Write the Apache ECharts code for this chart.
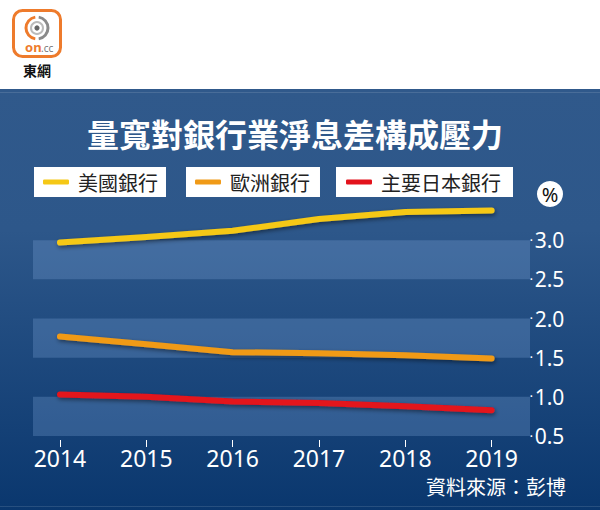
<!DOCTYPE html>
<html><head><meta charset="utf-8">
<script src="https://cdn.jsdelivr.net/npm/echarts@6/dist/echarts.min.js"></script>
<style>
html,body{margin:0;padding:0;}
#c{width:600px;height:510px;background:linear-gradient(to bottom,#ffffff 0px,#ffffff 89px,#30598b 89px,#2d578a 230px,#0a376e 510px);}
</style></head>
<body><div id="c"></div>
<script>
const years = ['2014','2015','2016','2017','2018','2019'];
const usBanks = [2.97, 3.04, 3.12, 3.27, 3.36, 3.38];
const euBanks = [1.77, 1.67, 1.57, 1.555, 1.53, 1.49];
const jpBanks = [1.03, 1.00, 0.94, 0.92, 0.88, 0.83];
const yTicks = [0.5, 1.0, 1.5, 2.0, 2.5, 3.0];
const seriesNames = ['美國銀行', '歐洲銀行', '主要日本銀行'];
const seriesColors = ['#f5c816', '#f09a17', '#e3121c'];

const cjk = '"Noto Sans CJK TC", "Noto Sans", sans-serif';
const num = '"Noto Sans", "Noto Sans CJK TC", sans-serif';

const chart = echarts.init(document.getElementById('c'), null, {renderer: 'svg'});

function legendBox(name, left, pad) {
  return {
    data: [name], left: left, top: 167, orient: 'horizontal',
    backgroundColor: '#ffffff', padding: pad,
    icon: 'roundRect', itemWidth: 26, itemHeight: 5,
    selectedMode: false,
    textStyle: {color: '#222', fontSize: 20, fontFamily: cjk, lineHeight: 20, padding: [0, 0, 0, 4]}
  };
}

const lineSeries = [usBanks, euBanks, jpBanks].map((d, i) => ({
  name: seriesNames[i], type: 'line', xAxisIndex: 1, yAxisIndex: 1,
  data: d, symbol: 'none', color: seriesColors[i], z: 5 + i,
  lineStyle: {width: 6, color: seriesColors[i], cap: 'round', join: 'round',
    shadowColor: 'rgba(0,0,0,0.45)', shadowBlur: 4, shadowOffsetY: 2, shadowOffsetX: 1}
}));

chart.setOption({
  animation: false,
  backgroundColor: 'transparent',
  title: {
    text: '量寬對銀行業淨息差構成壓力', left: 290, top: 112, textAlign: 'center',
    textStyle: {color: '#ffffff', fontSize: 32, fontWeight: 'bold', fontFamily: cjk}
  },
  legend: [
    legendBox(seriesNames[0], 34, [5, 8, 5, 9]),
    legendBox(seriesNames[1], 186, [5, 10, 5, 9]),
    legendBox(seriesNames[2], 336, [5, 12, 5, 10])
  ],
  grid: [
    {left: 33, right: 70, top: 201, bottom: 74},
    {left: 16.8, right: 65.2, top: 201, bottom: 74}
  ],
  xAxis: [
    {type: 'value', gridIndex: 0, min: 0, max: 1, show: false},
    {type: 'category', gridIndex: 1, data: years, boundaryGap: true, offset: 4,
      axisLine: {show: false},
      axisTick: {show: true, alignWithLabel: true, length: 7, lineStyle: {color: '#ffffff', width: 1}},
      axisLabel: {color: '#ffffff', fontSize: 23, fontFamily: num, margin: 6},
      splitLine: {show: false}}
  ],
  yAxis: [
    {type: 'value', gridIndex: 0, position: 'right', min: 0.5, max: 3.5, interval: 0.5,
      axisLine: {show: false},
      axisTick: {show: false},
      axisLabel: {color: '#ffffff', fontSize: 21, fontFamily: num, margin: 0, customValues: yTicks,
        formatter: v => '{d|•}' + v.toFixed(1),
        rich: {d: {fontSize: 7, color: '#ffffff', padding: [0, 2, 0, 0], verticalAlign: 'middle'}}},
      splitLine: {show: false},
      splitArea: {show: true, areaStyle: {color: ['rgba(140,180,230,0.25)', 'rgba(0,0,0,0)']}}},
    {type: 'value', gridIndex: 1, min: 0.5, max: 3.5, show: false}
  ],
  graphic: [
    {type: 'rect', shape: {x: 0, y: 92, width: 600, height: 1}, style: {fill: 'rgba(255,255,255,0.12)'}, silent: true},
    {type: 'rect', shape: {x: 0, y: 506, width: 600, height: 1}, style: {fill: 'rgba(255,255,255,0.12)'}, silent: true},
    {type: 'circle', shape: {cx: 550, cy: 194, r: 13}, style: {fill: '#ffffff'}},
    {type: 'text', x: 550, y: 194, style: {text: '%', fill: '#111', fontSize: 20, fontFamily: num, align: 'center', verticalAlign: 'middle'}},
    {type: 'text', x: 566, y: 486, style: {text: '資料來源：彭博', fill: '#ffffff', fontSize: 20, fontFamily: cjk, align: 'right', verticalAlign: 'middle'}},
    // logo
    {type: 'rect', shape: {x: 13.5, y: 10.5, width: 47, height: 46, r: 9}, style: {fill: '#ffffff', stroke: '#ee7b2c', lineWidth: 3}},
    {type: 'arc', shape: {cx: 37, cy: 28, r: 11, startAngle: Math.PI * 0.55, endAngle: Math.PI * 1.45}, style: {stroke: '#ee7b2c', lineWidth: 3, fill: null}},
    {type: 'arc', shape: {cx: 37, cy: 28, r: 11, startAngle: -Math.PI * 0.45, endAngle: Math.PI * 0.45}, style: {stroke: '#8a8a8a', lineWidth: 3, fill: null}},
    {type: 'circle', shape: {cx: 37, cy: 28, r: 6}, style: {fill: null, stroke: '#bbbbbb', lineWidth: 2}},
    {type: 'circle', shape: {cx: 37, cy: 28, r: 2.6}, style: {fill: '#666666'}},
    {type: 'text', x: 25, y: 47, style: {text: 'on', fill: '#ee7b2c', fontSize: 13, fontWeight: 'bold', fontFamily: num, verticalAlign: 'middle'}},
    {type: 'text', x: 41, y: 48, style: {text: '.cc', fill: '#777777', fontSize: 10, fontFamily: num, verticalAlign: 'middle'}},
    {type: 'text', x: 37, y: 70, style: {text: '東網', fill: '#111111', fontSize: 14, fontWeight: 'bold', fontFamily: cjk, align: 'center', verticalAlign: 'middle'}}
  ],
  series: lineSeries
});
</script>
</body></html>
